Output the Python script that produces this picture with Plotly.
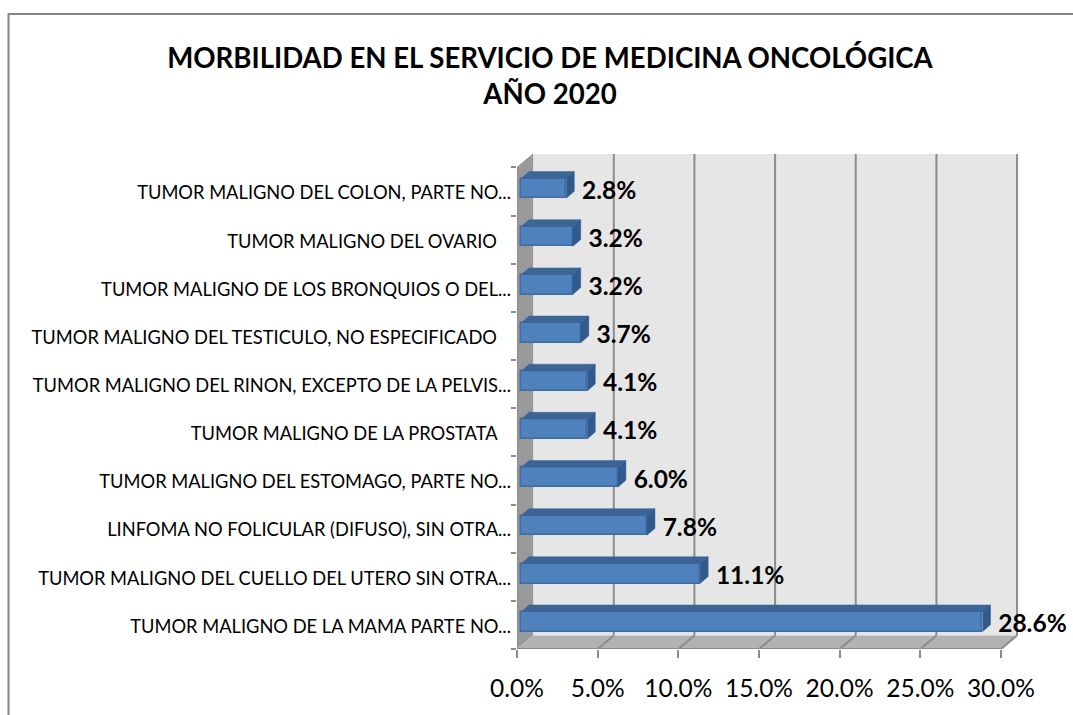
import plotly.graph_objects as go

categories = [
    "TUMOR MALIGNO DE LA MAMA PARTE NO...",
    "TUMOR MALIGNO DEL CUELLO DEL UTERO SIN OTRA...",
    "LINFOMA NO FOLICULAR (DIFUSO), SIN OTRA...",
    "TUMOR MALIGNO DEL ESTOMAGO, PARTE NO...",
    "TUMOR MALIGNO DE LA PROSTATA\u00a0\u00a0\u00a0",
    "TUMOR MALIGNO DEL RINON, EXCEPTO DE LA PELVIS...",
    "TUMOR MALIGNO DEL TESTICULO, NO ESPECIFICADO\u00a0\u00a0\u00a0",
    "TUMOR MALIGNO DE LOS BRONQUIOS O DEL...",
    "TUMOR MALIGNO DEL OVARIO\u00a0\u00a0\u00a0",
    "TUMOR MALIGNO DEL COLON, PARTE NO...",
]
values = [28.6, 11.1, 7.8, 6.0, 4.1, 4.1, 3.7, 3.2, 3.2, 2.8]
x_ticks = [0, 5, 10, 15, 20, 25, 30]
x_labels = ["0.0%", "5.0%", "10.0%", "15.0%", "20.0%", "25.0%", "30.0%"]

W, H = 1073, 715
L, R, T, B = 517, 1019, 154, 649
DX, DY = 1.0, 0.28            # depth of the 3-D box, in axis units
BDX, BDY = 0.5, 0.145         # depth of a bar
BAR_H = 0.41
XMAX = 30 + DX + 0.12
YMIN, YMAX = -0.5, 9.5 + DY
n = len(values)
ys = list(range(n))

FRONT, TOP, SIDE = "#4F81BD", "#3A6596", "#305A8C"
EDGE = "#3E6CA3"
GRID = "#8C8C8C"

shapes = [
    dict(type="rect", xref="x", yref="y", x0=DX, x1=30 + DX, y0=YMIN + DY, y1=YMAX,
         fillcolor="#E6E6E6", line_width=0, layer="below"),
    dict(type="path", xref="x", yref="y", layer="below", fillcolor="#999999", line_width=0,
         path=f"M0,{YMIN} L{DX},{YMIN+DY} L{DX},{YMAX} L0,{YMAX-DY} Z"),
    dict(type="path", xref="x", yref="y", layer="below", fillcolor="#B2B2B2", line_width=0,
         path=f"M0,{YMIN} L30,{YMIN} L{30+DX},{YMIN+DY} L{DX},{YMIN+DY} Z"),
]
for t in x_ticks[1:]:
    shapes.append(dict(type="line", xref="x", yref="y", layer="below", x0=t + DX, x1=t + DX,
                       y0=YMIN + DY, y1=YMAX, line=dict(color=GRID, width=2)))
    shapes.append(dict(type="line", xref="x", yref="y", layer="below", x0=t, x1=t + DX,
                       y0=YMIN, y1=YMIN + DY, line=dict(color=GRID, width=2)))
shapes.append(dict(type="line", xref="x", yref="y", layer="below", x0=0, x1=30, y0=YMIN, y1=YMIN,
                   line=dict(color=GRID, width=2)))
shapes.append(dict(type="line", xref="x", yref="y", layer="below", x0=0, x1=0, y0=YMIN, y1=YMAX - DY,
                   line=dict(color=GRID, width=2)))
shapes.append(dict(type="line", xref="x", yref="y", layer="below", x0=0, x1=DX, y0=YMAX - DY, y1=YMAX,
                   line=dict(color=GRID, width=1)))
# outer chart frame
shapes.append(dict(type="path", xref="paper", yref="paper", line=dict(color="#868686", width=2),
                   path=f"M{(8.5-L)/(R-L)},{(B-715)/(B-T)} L{(8.5-L)/(R-L)},{(B-14)/(B-T)} L{(1073-L)/(R-L)},{(B-14)/(B-T)}"))

OFFS = 0.065
base = DX / 4
fig = go.Figure()
fig.add_trace(go.Bar(orientation="h", y=[i + OFFS for i in ys], x=values, base=base, width=BAR_H,
                     marker=dict(color=FRONT, line=dict(color=EDGE, width=1.5)),
                     showlegend=False, hoverinfo="skip"))
top_x, top_y, side_x, side_y = [], [], [], []
for i, v in zip(ys, values):
    yt = i + OFFS + BAR_H / 2
    yb = i + OFFS - BAR_H / 2
    end = base + v
    top_x += [base, base + BDX, end + BDX, end, None]
    top_y += [yt, yt + BDY, yt + BDY, yt, None]
    side_x += [end, end + BDX, end + BDX, end, None]
    side_y += [yt, yt + BDY, yb + BDY, yb, None]
fig.add_trace(go.Scatter(x=top_x, y=top_y, fill="toself", fillcolor=TOP, mode="lines",
                         line=dict(color=TOP, width=0.5), showlegend=False, hoverinfo="skip"))
fig.add_trace(go.Scatter(x=side_x, y=side_y, fill="toself", fillcolor=SIDE, mode="lines",
                         line=dict(color=SIDE, width=0.5), showlegend=False, hoverinfo="skip"))
fig.add_trace(go.Scatter(x=[v + base + 0.98 for v in values], y=[i - 0.02 for i in ys], mode="text",
                         text=[f"{v:.1f}%" for v in values], textposition="middle right",
                         textfont=dict(family="Lato", size=24.5, color="black", weight="bold"),
                         showlegend=False, hoverinfo="skip", cliponaxis=False))

fig.update_layout(
    width=W, height=H, autosize=False,
    margin=dict(l=L, r=W - R, t=T, b=H - B, pad=0),
    paper_bgcolor="white", plot_bgcolor="white",
    font=dict(family="Lato", color="black"),
    shapes=shapes, bargap=0,
    title=dict(text="MORBILIDAD EN EL SERVICIO DE MEDICINA ONCOLÓGICA<br>AÑO 2020",
               font=dict(family="Lato", size=27.6, color="black", weight="bold"),
               x=550 / W, xanchor="center", y=1 - 68 / H, yanchor="middle", xref="container"),
    xaxis=dict(range=[0, XMAX], tickvals=x_ticks, ticktext=x_labels, ticks="outside", ticklen=8,
               tickwidth=2, tickcolor=GRID, showgrid=False, zeroline=False, showline=False,
               tickfont=dict(family="Lato", size=24.5, color="black"), ticklabelstandoff=10),
    yaxis=dict(range=[YMIN, YMAX], tickvals=[i - 0.03 for i in ys], ticktext=categories, ticks="",
               showgrid=False, zeroline=False, showline=False, ticklabelstandoff=5,
               tickfont=dict(family="Lato", size=18.3, color="black"),
               minor=dict(tickvals=[i - 0.5 for i in range(n + 1)], ticks="outside", ticklen=5,
                          tickwidth=1.5, tickcolor=GRID, showgrid=False)),
)
fig.write_html("out.html", config=dict(displayModeBar=False),
               post_script="document.body.style.margin='0';document.body.style.overflow='hidden';")
